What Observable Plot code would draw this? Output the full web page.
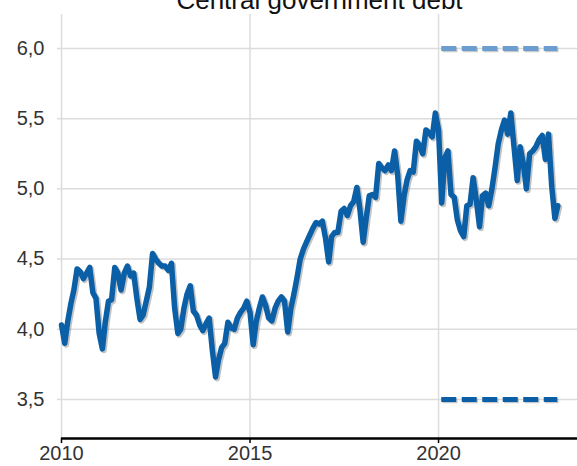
<!DOCTYPE html>
<html><head><meta charset="utf-8">
<script src="https://cdn.jsdelivr.net/npm/d3@7"></script>
<script src="https://cdn.jsdelivr.net/npm/@observablehq/plot@0.6"></script>
<style>body{margin:0;background:#fff;overflow:hidden;} svg{display:block;}</style>
</head><body><div id="chart"></div>
<script>
const title = "Central government debt";
const startMonth = "2010-01-01";
const values = [
  4.03,3.90,4.05,4.18,4.28,4.43,4.41,4.36,4.40,4.44,4.26,4.22,
  3.97,3.86,4.05,4.20,4.21,4.44,4.40,4.28,4.40,4.45,4.38,4.40,
  4.22,4.07,4.10,4.20,4.30,4.54,4.50,4.47,4.45,4.45,4.42,4.47,
  4.15,3.97,4.00,4.15,4.25,4.31,4.13,4.10,4.03,3.99,4.04,4.08,
  3.85,3.66,3.78,3.87,3.90,4.05,4.01,4.00,4.08,4.12,4.15,4.20,
  4.12,3.89,4.05,4.15,4.23,4.17,4.08,4.06,4.15,4.20,4.23,4.20,
  3.98,4.15,4.25,4.37,4.50,4.57,4.62,4.67,4.72,4.76,4.75,4.77,
  4.65,4.48,4.66,4.69,4.69,4.84,4.86,4.81,4.88,4.91,5.01,4.85,
  4.62,4.80,4.95,4.96,4.94,5.18,5.15,5.13,5.17,5.13,5.27,5.10,
  4.77,4.95,5.06,5.13,5.12,5.34,5.31,5.25,5.42,5.40,5.37,5.54,
  5.42,4.90,5.22,5.27,4.96,4.94,4.78,4.70,4.66,4.88,4.89,5.08,
  4.92,4.73,4.95,4.97,4.88,5.00,5.15,5.32,5.42,5.49,5.39,5.54,
  5.30,5.06,5.30,5.18,5.00,5.25,5.27,5.30,5.35,5.38,5.21,5.39,
  5.02,4.79,4.88
];
const yTicks = [3.5, 4.0, 4.5, 5.0, 5.5, 6.0];
const xTickYears = [2010, 2015, 2020];
const limitStart = "2020-02-01";
const limitEnd = "2023-03-01";
const limitValues = [6.0, 3.5];
const limitColors = ["#6b9dd0", "#0a5fa6"];
const lineColor = "#0a5fa6";

const start = new Date(startMonth);
const data = values.map((v, i) => ({date: d3.utcMonth.offset(start, i), value: v}));
const limits = limitValues.map((v, i) => ({value: v, color: limitColors[i], x1: new Date(limitStart), x2: new Date(limitEnd)}));
const yMin = 3.222, yMax = 6.242;
const xTicks = xTickYears.map(y => new Date(Date.UTC(y, 0, 1)));

const chart = Plot.plot({
  width: 577, height: 466,
  marginLeft: 61, marginRight: 0, marginTop: 14, marginBottom: 28,
  style: {fontFamily: "'Liberation Sans', Arial, sans-serif", fontSize: "20px", color: "#333", background: "#fff"},
  x: {type: "utc", domain: [new Date("2010-01-01"), new Date("2023-09-08")], label: null},
  y: {domain: [yMin, yMax], label: null},
  marks: [
    Plot.gridY(yTicks, {stroke: "#dcdcdc", strokeOpacity: 1, strokeWidth: 1.5}),
    Plot.gridX(xTicks, {stroke: "#dcdcdc", strokeOpacity: 1, strokeWidth: 1.5}),
    Plot.axisY({ticks: yTicks, tickSize: 4, tickPadding: 13, stroke: "#dcdcdc", strokeWidth: 1.5, label: null,
      tickFormat: d => d.toFixed(1).replace(".", ","), fill: "#333"}),
    Plot.axisX({ticks: xTicks, tickSize: 5, tickPadding: 2, label: null,
      tickFormat: d3.utcFormat("%Y"), stroke: "#000", strokeWidth: 1.5, fill: "#333"}),
    Plot.ruleY([yMin], {stroke: "#000", strokeWidth: 2.5}),
    Plot.ruleY(limits, {y: "value", x1: "x1", x2: "x2", stroke: "#888", strokeOpacity: 0.45, strokeWidth: 5, strokeDasharray: "15,5.5", dx: 1.2, dy: 1.2}),
    Plot.ruleY(limits, {y: "value", x1: "x1", x2: "x2", stroke: "color", strokeWidth: 5, strokeDasharray: "15,5.5"}),
    Plot.line(data, {x: "date", y: "value", stroke: "#888", strokeOpacity: 0.5, strokeWidth: 6, strokeLinejoin: "round", dx: 1.4, dy: 1.4}),
    Plot.line(data, {x: "date", y: "value", stroke: lineColor, strokeWidth: 5.5, strokeLinejoin: "round", strokeLinecap: "round"}),
    Plot.text([title], {frameAnchor: "top", lineAnchor: "bottom", dy: -6, fontSize: 26, fill: "#111"})
  ]
});
document.getElementById("chart").appendChild(chart);
</script>
</body></html>
